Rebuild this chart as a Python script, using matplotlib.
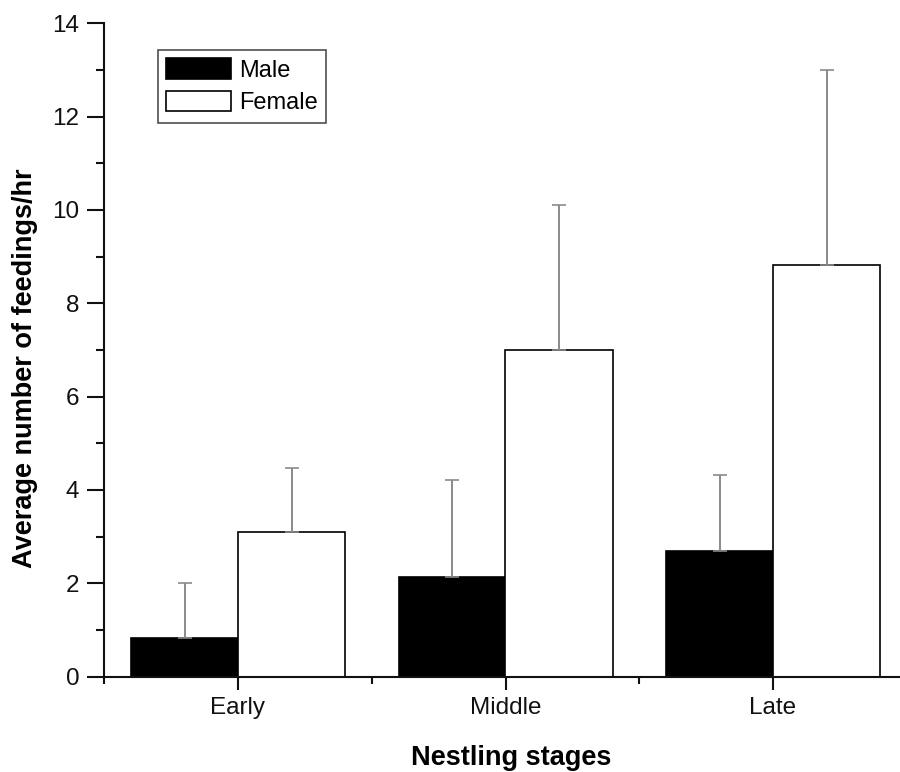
import matplotlib
matplotlib.use("Agg")
import matplotlib.pyplot as plt
import numpy as np
from matplotlib.ticker import MultipleLocator

plt.rcParams['font.family'] = ['Liberation Sans', 'DejaVu Sans']

stages = ["Early", "Middle", "Late"]
male = [0.83, 2.13, 2.69]
male_err = [1.17, 2.09, 1.62]
female = [3.09, 7.00, 8.83]
female_err = [1.38, 3.10, 4.17]

fig = plt.figure(figsize=(9, 7.72), dpi=100)
ax = fig.add_axes([104.25/900, 95.5/772, (906.75-104.25)/900, (748.7-95.5)/772])

x = np.arange(len(stages))
w = 0.4
ekw = dict(ecolor='#8a8a8a', elinewidth=1.4, capsize=4.7, capthick=1.2)
ax.bar(x - w/2, male, w, color='black', edgecolor='black', linewidth=1.2,
       yerr=[np.zeros(3), male_err], error_kw=ekw, label='Male', zorder=2)
ax.bar(x + w/2, female, w, color='white', edgecolor='black', linewidth=1.2,
       yerr=[np.zeros(3), female_err], error_kw=ekw, label='Female', zorder=2)

ax.set_xlim(-0.5, 2.5)
ax.set_ylim(0, 14)
ax.set_xticks(x)
ax.set_xticklabels(stages)
ax.xaxis.set_minor_locator(MultipleLocator(0.5))
ax.yaxis.set_major_locator(MultipleLocator(2))
ax.yaxis.set_minor_locator(MultipleLocator(1))
for s in ['top', 'right']:
    ax.spines[s].set_visible(False)
for s in ['left', 'bottom']:
    ax.spines[s].set_linewidth(1.5)
    ax.spines[s].set_color('#111111')
ax.tick_params(which='major', length=12, width=1.5, labelsize=17.5, colors='#111111', pad=6)
ax.tick_params(which='minor', length=6, width=1.5, colors='#111111')
ax.tick_params(axis='x', which='major', length=9)
ax.tick_params(axis='x', which='minor', length=5)

ax.set_xlabel("Nestling stages", fontsize=19.5, fontweight='bold')
ax.set_ylabel("Average number of feedings/hr", fontsize=19.5, fontweight='bold')
ax.xaxis.set_label_coords(0.507, -0.105)
ax.yaxis.set_label_coords(-0.082, 0.472)

leg = fig.legend(loc='upper left', bbox_to_anchor=(158/900, 1 - 50/772), fontsize=17,
                 frameon=True, fancybox=False, shadow=False, borderaxespad=0,
                 handlelength=2.75, handleheight=0.95, labelspacing=0.4,
                 borderpad=0.35, handletextpad=0.35)
leg.get_frame().set_edgecolor('#222222')
leg.get_frame().set_linewidth(1.2)
for p in leg.get_patches():
    p.set_linewidth(1.2)

fig.savefig("out.png", dpi=100, facecolor='white')
